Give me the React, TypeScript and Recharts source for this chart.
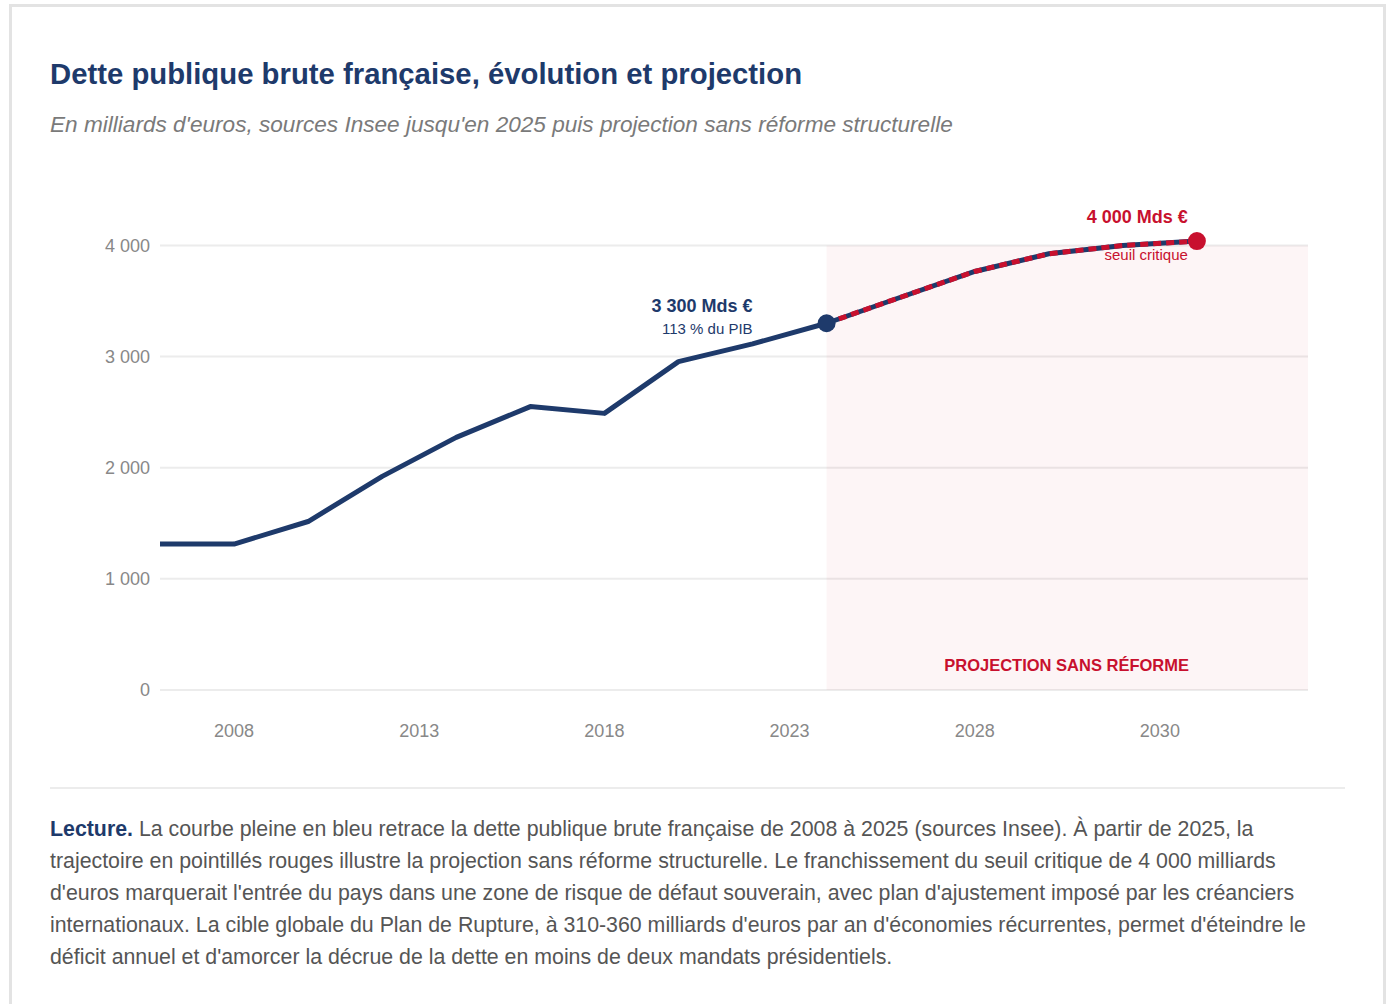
import React from "react";
import {
  LineChart,
  Line,
  XAxis,
  YAxis,
  CartesianGrid,
  ReferenceArea,
} from "recharts";

const NAVY = "#1e3a6b";
const RED = "#c8102e";
const FONT = '"Liberation Sans", Arial, Helvetica, sans-serif';

// years of the plotted points (one every two years)
const years = [2006, 2008, 2010, 2012, 2014, 2016, 2018, 2020, 2022, 2024, 2026, 2028, 2030, 2032, 2034];
// debt in billions of euros, observed part
const histDebt = [1313, 1313, 1516, 1922, 2273, 2550, 2489, 2955, 3114, 3300, null, null, null, null, null];
// projection without reform
const projDebt = [null, null, null, null, null, null, null, null, null, 3300, 3534, 3766, 3925, 4000, 4039];

const xTicks = [2008, 2013, 2018, 2023, 2028, 2033];
const xTickLabels = ["2008", "2013", "2018", "2023", "2028", "2030"];
const yTicks = [0, 1000, 2000, 3000, 4000];

const projStart = 2024;
const projEnd = 2037;

const data = years.map((year, i) => ({
  year,
  hist: histDebt[i],
  proj: projDebt[i],
}));

const fmtThousands = (v: number) => String(v).replace(/\B(?=(\d{3})+(?!\d))/g, " ");

function ProjDot(props: any) {
  const { cx, cy, payload } = props;
  if (cx == null || cy == null || payload == null) return <g />;
  if (payload.year === projStart) {
    return (
      <g>
        <circle cx={cx} cy={cy} r={9} fill={NAVY} />
        <text x={cx - 74} y={cy - 11} textAnchor="end" fill={NAVY} fontSize={18} fontWeight="bold" fontFamily={FONT}>
          3 300 Mds €
        </text>
        <text x={cx - 74} y={cy + 11} textAnchor="end" fill={NAVY} fontSize={15} fontFamily={FONT}>
          113 % du PIB
        </text>
      </g>
    );
  }
  if (payload.year === years[years.length - 1]) {
    return (
      <g>
        <circle cx={cx} cy={cy} r={9} fill={RED} />
        <text x={cx - 9} y={cy - 18} textAnchor="end" fill={RED} fontSize={18} fontWeight="bold" fontFamily={FONT}>
          4 000 Mds €
        </text>
        <text x={cx - 9} y={cy + 19} textAnchor="end" fill={RED} fontSize={15} fontFamily={FONT}>
          seuil critique
        </text>
      </g>
    );
  }
  return <g />;
}

function ZoneLabel(props: any) {
  const vb = props.viewBox || {};
  return (
    <text
      x={vb.x + vb.width - 119}
      y={vb.y + vb.height - 19}
      textAnchor="end"
      fill={RED}
      fontSize={16.5}
      fontWeight="bold"
      fontFamily={FONT}
    >
      PROJECTION SANS RÉFORME
    </text>
  );
}

export default function App() {
  return (
    <div
      style={{
        position: "absolute",
        left: 9,
        top: 4,
        width: 1377,
        height: 1020,
        boxSizing: "border-box",
        border: "3px solid #e3e3e3",
        padding: "0 38px",
        fontFamily: FONT,
        background: "#fff",
      }}
    >
      <div style={{ marginTop: 48.7, fontSize: 29.3, fontWeight: "bold", color: NAVY, lineHeight: 1.2 }}>
        Dette publique brute française, évolution et projection
      </div>
      <div style={{ marginTop: 20, fontSize: 22.6, fontStyle: "italic", color: "#7a7a7a", lineHeight: 1.2 }}>
        En milliards d'euros, sources Insee jusqu'en 2025 puis projection sans réforme structurelle
      </div>
      <div style={{ marginTop: 21.6 }}>
        <LineChart width={1295} height={590} data={data} margin={{ top: 81, right: 37, bottom: 0, left: 0 }}>
          <CartesianGrid vertical={false} horizontalValues={yTicks} stroke="#ececec" strokeWidth={2} />
          <ReferenceArea
            x1={projStart}
            x2={projEnd}
            y1={0}
            y2={4000}
            fill={RED}
            fillOpacity={0.045}
            stroke="none"
            label={(p: any) => <ZoneLabel {...p} />}
          />
          <XAxis
            type="number"
            dataKey="year"
            domain={[2006, projEnd]}
            ticks={xTicks}
            interval={0}
            tickFormatter={(v: number) => xTickLabels[xTicks.indexOf(v)] ?? String(v)}
            axisLine={false}
            tickLine={false}
            tickMargin={28}
            height={60}
            tick={{ fill: "#888", fontSize: 18, fontFamily: FONT }}
          />
          <YAxis
            domain={[0, 4040]}
            ticks={yTicks}
            interval={0}
            tickFormatter={fmtThousands}
            axisLine={false}
            tickLine={false}
            tickMargin={4}
            width={110}
            tick={{ fill: "#888", fontSize: 18, fontFamily: FONT }}
          />
          <Line
            dataKey="hist"
            stroke={NAVY}
            strokeWidth={5}
            dot={false}
            activeDot={false}
            isAnimationActive={false}
            strokeLinejoin="round"
          />
          <Line
            dataKey="proj"
            stroke={NAVY}
            strokeWidth={5}
            dot={false}
            activeDot={false}
            isAnimationActive={false}
          />
          <Line
            dataKey="proj"
            stroke={RED}
            strokeWidth={5}
            strokeDasharray="8 5"
            dot={(p: any) => <ProjDot key={`pd-${p.index}`} {...p} />}
            activeDot={false}
            isAnimationActive={false}
          />
        </LineChart>
      </div>
      <div style={{ marginTop: 37, height: 2, background: "#ececec" }} />
      <div style={{ marginTop: 24.2, fontSize: 21.33, lineHeight: "32px", color: "#555" }}>
        <b style={{ color: NAVY }}>Lecture.</b> La courbe pleine en bleu retrace la dette publique brute française de
        2008 à 2025 (sources Insee). À partir de 2025, la trajectoire en pointillés rouges illustre la projection sans
        réforme structurelle. Le franchissement du seuil critique de 4 000 milliards d'euros marquerait l'entrée du pays
        dans une zone de risque de défaut souverain, avec plan d'ajustement imposé par les créanciers internationaux. La
        cible globale du Plan de Rupture, à 310-360 milliards d'euros par an d'économies récurrentes, permet d'éteindre
        le déficit annuel et d'amorcer la décrue de la dette en moins de deux mandats présidentiels.
      </div>
    </div>
  );
}
